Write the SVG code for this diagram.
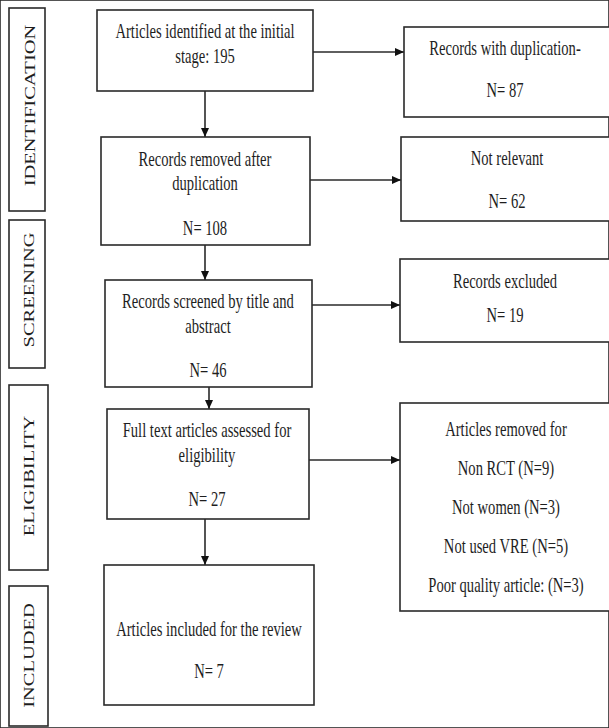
<svg xmlns="http://www.w3.org/2000/svg" width="609" height="728" viewBox="0 0 609 728">
<style>
rect{fill:#fff;stroke:#2a2a2a;stroke-width:1.6}
.t{font-family:"Liberation Serif","Times New Roman",serif;font-size:20px;fill:#1e1e1e;text-anchor:middle}
.s{font-family:"Liberation Serif","Times New Roman",serif;font-size:20.5px;fill:#1e1e1e;text-anchor:middle}
.c{stroke:#2a2a2a;stroke-width:1.6;fill:none;marker-end:url(#ah)}
</style>
<defs>
<marker id="ah" markerUnits="userSpaceOnUse" markerWidth="10" markerHeight="9" refX="9" refY="4" orient="auto">
<path d="M0,0 L9,4 L0,8 z" fill="#111"/>
</marker>
</defs>
<rect width="609" height="728" fill="#fff" stroke="none"/>
<g id="stage-identification"><rect x="9" y="8" width="36" height="203"/><text class="s" transform="translate(34.5,105.5) rotate(-90) scale(1,0.73)">IDENTIFICATION</text></g>
<g id="stage-screening"><rect x="9" y="220" width="36" height="148"/><text class="s" transform="translate(34,290) rotate(-90) scale(1,0.73)">SCREENING</text></g>
<g id="stage-eligibility"><rect x="9" y="385" width="39" height="185"/><text class="s" transform="translate(34,476) rotate(-90) scale(1,0.73)">ELIGIBILITY</text></g>
<g id="stage-included"><rect x="9" y="586" width="39" height="140"/><text class="s" transform="translate(34,655.5) rotate(-90) scale(1,0.73)">INCLUDED</text></g>
<g id="connectors">
<line class="c" x1="205" y1="91" x2="205" y2="137"/>
<line class="c" x1="205" y1="245" x2="205" y2="280"/>
<line class="c" x1="209" y1="387" x2="209" y2="409"/>
<line class="c" x1="205" y1="519" x2="205" y2="565"/>
<line class="c" x1="313" y1="52" x2="404" y2="52"/>
<line class="c" x1="310" y1="180" x2="401" y2="180"/>
<line class="c" x1="312" y1="305" x2="400" y2="305"/>
<line class="c" x1="309" y1="460" x2="400" y2="460"/>
</g>
<g id="identified"><rect x="97" y="10" width="216" height="81"/>
<text class="t" transform="translate(205,38) scale(0.73,1)">Articles identified at the initial</text>
<text class="t" transform="translate(205,63) scale(0.73,1)">stage: 195</text></g>
<g id="after-dup"><rect x="101" y="137" width="209" height="108"/>
<text class="t" transform="translate(205,166) scale(0.73,1)">Records removed after</text>
<text class="t" transform="translate(205,190) scale(0.73,1)">duplication</text>
<text class="t" transform="translate(205,235) scale(0.73,1)">N= 108</text></g>
<g id="screened"><rect x="105" y="280" width="207" height="107"/>
<text class="t" transform="translate(208,308) scale(0.73,1)">Records screened by title and</text>
<text class="t" transform="translate(208,333) scale(0.73,1)">abstract</text>
<text class="t" transform="translate(208,377) scale(0.73,1)">N= 46</text></g>
<g id="fulltext"><rect x="107" y="409" width="202" height="110"/>
<text class="t" transform="translate(207,437) scale(0.73,1)">Full text articles assessed for</text>
<text class="t" transform="translate(207,462) scale(0.73,1)">eligibility</text>
<text class="t" transform="translate(207,506) scale(0.73,1)">N= 27</text></g>
<g id="included"><rect x="104" y="565" width="210" height="140"/>
<text class="t" transform="translate(209,636) scale(0.73,1)">Articles included for the review</text>
<text class="t" transform="translate(209,678) scale(0.73,1)">N= 7</text></g>
<g id="duplicates"><rect x="404" y="27" width="212" height="90"/>
<text class="t" transform="translate(505,55) scale(0.73,1)">Records with duplication-</text>
<text class="t" transform="translate(505,97) scale(0.73,1)">N= 87</text></g>
<g id="not-relevant"><rect x="401" y="137" width="215" height="84"/>
<text class="t" transform="translate(507,165) scale(0.73,1)">Not relevant</text>
<text class="t" transform="translate(507,208) scale(0.73,1)">N= 62</text></g>
<g id="excluded"><rect x="400" y="259" width="216" height="83"/>
<text class="t" transform="translate(505,288) scale(0.73,1)">Records excluded</text>
<text class="t" transform="translate(505,322) scale(0.73,1)">N= 19</text></g>
<g id="removed"><rect x="400" y="403" width="216" height="208"/>
<text class="t" transform="translate(506,436) scale(0.73,1)">Articles removed for</text>
<text class="t" transform="translate(506,475) scale(0.73,1)">Non RCT (N=9)</text>
<text class="t" transform="translate(506,514) scale(0.73,1)">Not women (N=3)</text>
<text class="t" transform="translate(506,553) scale(0.73,1)">Not used VRE (N=5)</text>
<text class="t" transform="translate(506,592) scale(0.73,1)">Poor quality article: (N=3)</text></g>
</svg>
